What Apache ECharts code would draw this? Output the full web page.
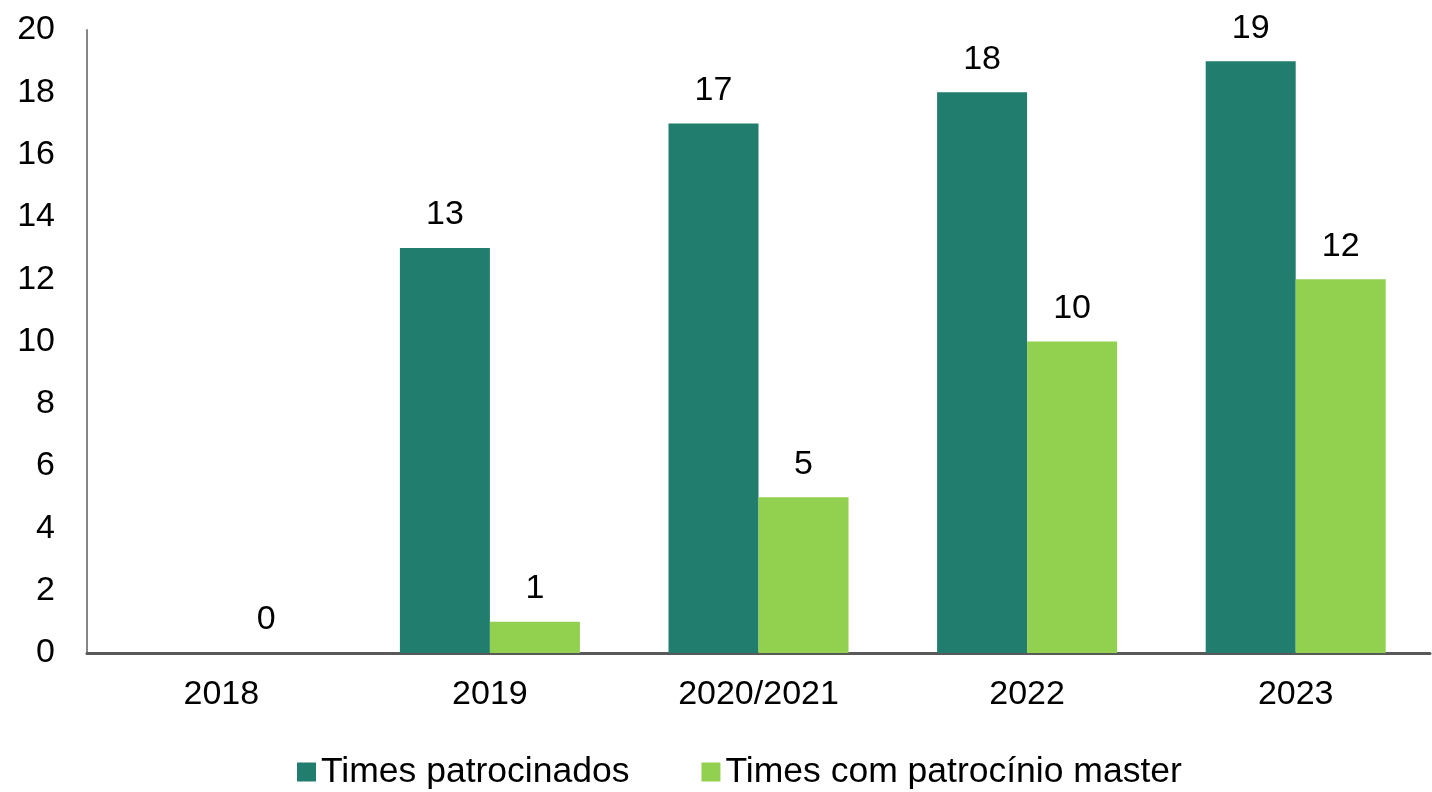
<!DOCTYPE html>
<html>
<head>
<meta charset="utf-8">
<script src="https://cdn.jsdelivr.net/npm/echarts@6/dist/echarts.min.js"></script>
<style>
  html, body { margin: 0; padding: 0; background: #fff; }
  #chart { width: 1432px; height: 792px; }
</style>
</head>
<body>
<div id="chart"></div>
<script>
const categories = ['2018', '2019', '2020/2021', '2022', '2023']
const patrocinados = ['-', 13, 17, 18, 19]
const master = [0, 1, 5, 10, 12]
const yTicks = [0, 2, 4, 6, 8, 10, 12, 14, 16, 18, 20]

const font = 'Liberation Sans, Arial, sans-serif'
const chart = echarts.init(document.getElementById('chart'))

// shared style for the value labels on the bars
const barLabel = { show: true, position: 'top', distance: 16, fontSize: 34, color: '#000', fontFamily: font }

chart.setOption({
  animation: false,
  textStyle: { fontFamily: font },
  grid: { left: 87, right: 2, top: 30, bottom: 139 },
  legend: {
    left: 292,
    top: 749,
    itemWidth: 19,
    itemHeight: 19,
    itemGap: 72,
    icon: 'rect',
    textStyle: { fontSize: 35.5, color: '#000', fontFamily: font },
    data: ['Times patrocinados', 'Times com patrocínio master']
  },
  xAxis: {
    type: 'category',
    data: categories,
    axisLine: { lineStyle: { color: '#595959', width: 3 } },
    axisTick: { show: false },
    axisLabel: { fontSize: 34, color: '#000', margin: 25, fontFamily: font }
  },
  yAxis: {
    type: 'value',
    min: yTicks[0],
    max: yTicks[yTicks.length - 1],
    interval: 2,
    axisLine: { show: true, lineStyle: { color: '#868686', width: 2 } },
    axisTick: { show: false },
    splitLine: { show: false },
    axisLabel: { fontSize: 34, color: '#000', margin: 32, fontFamily: font }
  },
  series: [
    {
      name: 'Times patrocinados',
      type: 'bar',
      data: patrocinados,
      barWidth: 90,
      barGap: '0%',
      itemStyle: { color: '#217d6e' },
      label: barLabel
    },
    {
      name: 'Times com patrocínio master',
      type: 'bar',
      data: master,
      barWidth: 90,
      barGap: '0%',
      itemStyle: { color: '#92d050' },
      label: barLabel
    }
  ]
})
</script>
</body>
</html>
